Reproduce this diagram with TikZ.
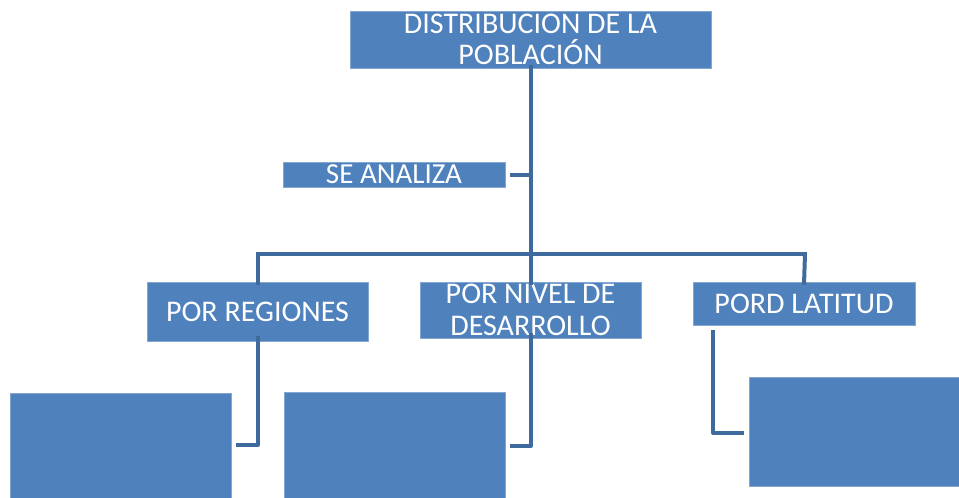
\documentclass[tikz,border=0pt]{standalone}
\usepackage{fontspec}
\setmainfont{Carlito}
\definecolor{boxblue}{HTML}{4F81BD}
\definecolor{lineblue}{HTML}{3F6A9E}
\begin{document}
\begin{tikzpicture}[x=1pt,y=-1pt,
  box/.style={fill=boxblue, draw=boxblue!70!white, line width=0.6pt, text=white, inner sep=0pt, align=center,
    font=\fontsize{30}{30.5}\selectfont},
  conn/.style={draw=lineblue, line width=4pt, line join=round, line cap=butt}]
\useasboundingbox (0,0) rectangle (959,498);
\clip (0,0) rectangle (959,498);
\node[box, minimum width=361, minimum height=57] (top) at (530.5,39.5) {DISTRIBUCION DE LA\\POBLACIÓN};
\node[box, minimum width=222, minimum height=25, font=\fontsize{29}{29}\selectfont] (sea) at (394,174.5) {SE ANALIZA};
\node[box, minimum width=221, minimum height=59] (reg) at (257.5,311.5) {POR REGIONES};
\node[box, minimum width=221, minimum height=56, font=\fontsize{30}{32}\selectfont] (niv) at (530.5,310) {POR NIVEL DE\\DESARROLLO};
\node[box, minimum width=222, minimum height=43] (lat) at (804,303.5) {PORD LATITUD};
\node[box, minimum width=221, minimum height=112] (c1) at (120.5,449) {};
\node[box, minimum width=221, minimum height=113] (c2) at (394.5,448.5) {};
\node[box, minimum width=221, minimum height=109] (c3) at (859.5,431.5) {};
% trunk
\coordinate (barL) at (257.5,254);
\coordinate (barR) at (805,254);
\coordinate (barM) at (530.5,254);
\draw[conn] ([yshift=3]top.south) -- (barM);
\draw[conn] ([xshift=5]sea.east) -- (sea.east -| top.south);
\draw[conn] ([xshift=-2]barL) -- ([xshift=2]barR);
\draw[conn] (barL) -- ([yshift=-3]reg.north);
\draw[conn] (barM) -- ([yshift=-3]niv.north);
\draw[conn] (barR) -- ([yshift=-3]lat.north);
% children
\coordinate (k1) at (257.5,445);
\draw[conn] ([yshift=5]reg.south) -- (k1) -- ([xshift=5]k1 -| c1.east);
\coordinate (k2) at (530.5,446);
\draw[conn] ([yshift=5]niv.south) -- (k2) -- ([xshift=5]k2 -| c2.east);
\coordinate (latdrop) at (713,330);
\coordinate (k3) at (713,433);
\draw[conn] (latdrop) -- (k3) -- ([xshift=-5]k3 -| c3.west);
\end{tikzpicture}
\end{document}
